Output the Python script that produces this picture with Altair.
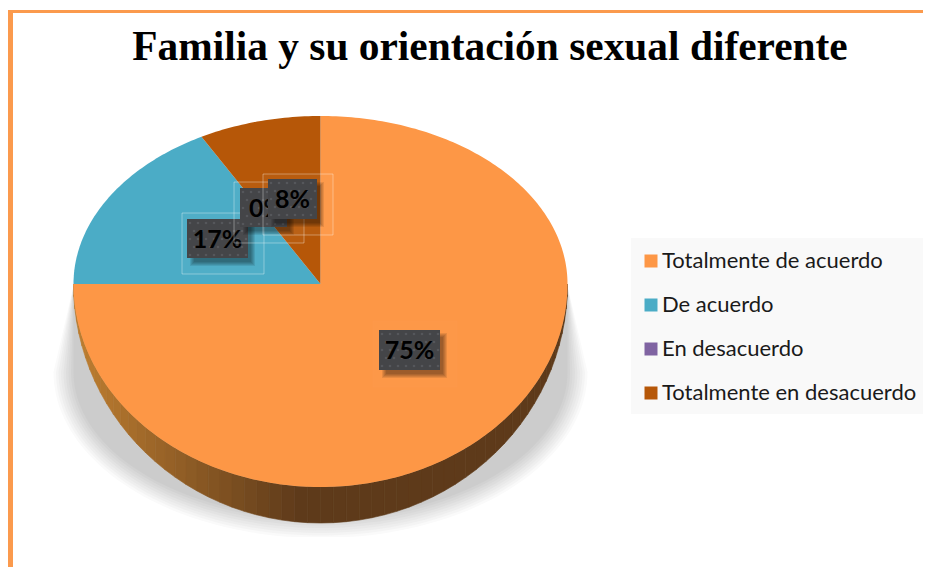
import numpy as np
import altair as alt

# ---- data
TITLE = "Familia y su orientación sexual diferente"
CATEGORIES = ["Totalmente de acuerdo", "De acuerdo", "En desacuerdo", "Totalmente en desacuerdo"]
VALUES = [75, 17, 0, 8]
LABELS = ["75%", "17%", "0%", "8%"]
COLORS = ["#fd9746", "#4bacc6", "#8064a2", "#b65708"]

# ---- placement (page pixels)
W, H = 915, 559
CX, CY, RX, RY_UP, RY_DOWN, RY_WALL = 320.5, 284, 247, 168, 203, 239
BOX_CENTER_X = [409.5, 217.5, 263.5, 292.5]
BOX_CENTER_Y = [350, 238.5, 207.5, 199]
BOX_W = [61, 61, 47, 49]
BOX_H = [40, 39, 39, 40]
TEXT_DX = [0, 0, 3, 0]
HALO_BOX = [(373, 321, 457, 387), (182, 213, 264, 274), (234, 182, 304, 243), (263, 174, 333, 235)]
HALO_STROKE = [0.02, 0.35, 0.35, 0.35]
HALO_FILL = [0.012, 0.03, 0.03, 0.03]

X = alt.X("x:Q", scale=alt.Scale(domain=[8, 923]), axis=None)
X2 = alt.X2("x2:Q")
Y = alt.Y("y:Q", scale=alt.Scale(domain=[8, 567], reverse=True), axis=None)
Y2 = alt.Y2("y2:Q")
PROJ = alt.Projection(type="identity", scale=1, translate=[-8, -8])


def rect(x, y, x2, y2, **kw):
    return alt.Chart(alt.Data(values=[dict(x=x, y=y, x2=x2, y2=y2)])).mark_rect(**kw).encode(
        x=X, x2=X2, y=Y, y2=Y2)


def edge(a):
    """Point of the top face at clockwise angle a (radians from 12 o'clock)."""
    s, c = np.sin(a), np.cos(a)
    ry = RY_UP if c >= 0 else RY_DOWN
    return [float(CX + RX * s), float(CY - ry * c)]


def feat(ring, **props):
    return {"type": "Feature", "properties": props,
            "geometry": {"type": "Polygon", "coordinates": [ring + [ring[0]]]}}


# ---- shadow under the pie: nested outlines, pale outside to solid inside
shadow = []
STEPS = 9
for i in range(STEPS):
    f = i / (STEPS - 1)
    inset = 20 * (1 - f)
    level = int(round(250 - (250 - 204) * f))
    col = "#%02x%02x%02x" % (level, level, level)
    rx = 247 + inset
    ring = []
    ring.append([CX - 247, 286.0])
    for t in np.linspace(0, np.pi, 90):
        px = CX - rx * np.cos(t)
        py = 372 + (146 + inset) * np.sin(t)
        ring.append([float(px), float(min(py, 537))])
    ring.append([CX + 247, 286.0])
    shadow.append(feat(ring, c=col))

# ---- side wall: narrow facets darkening from left to right
wall = []
ANG = np.linspace(np.pi * 1.5, np.pi * 0.5, 61)
for a0, a1 in zip(ANG[:-1], ANG[1:]):
    mx = CX + RX * np.sin((a0 + a1) / 2)
    f = float(np.clip((mx - 85) / (300 - 85), 0, 1))
    c0, c1 = np.array([0xbb, 0x7c, 0x30]), np.array([0x5e, 0x3a, 0x1a])
    col = "#%02x%02x%02x" % tuple(int(v) for v in (c0 + (c1 - c0) * f))
    ring = [edge(a0), edge(a1),
            [float(CX + RX * np.sin(a1)), float(CY - RY_WALL * np.cos(a1))],
            [float(CX + RX * np.sin(a0)), float(CY - RY_WALL * np.cos(a0))]]
    wall.append(feat(ring, c=col))

# ---- top face slices, from the values, clockwise from 12 o'clock
slices = []
start = 0.0
total = sum(VALUES)
for name, v in zip(CATEGORIES, VALUES):
    if v > 0:
        sweep = 2 * np.pi * v / total
        n = max(2, int(v * 4))
        ring = [[CX, float(CY)]] + [edge(a) for a in np.linspace(start, start + sweep, n)]
        slices.append(feat(ring, name=name))
        start += sweep

shadow_ch = alt.Chart(alt.Data(values=shadow)).mark_geoshape(strokeWidth=0).encode(
    fill=alt.Fill("properties.c:N", scale=None)).project(**PROJ.to_dict())
wall_ch = alt.Chart(alt.Data(values=wall)).mark_geoshape(strokeWidth=0.6).encode(
    fill=alt.Fill("properties.c:N", scale=None),
    stroke=alt.Stroke("properties.c:N", scale=None)).project(**PROJ.to_dict())
top_ch = alt.Chart(alt.Data(values=slices)).mark_geoshape(strokeWidth=0).encode(
    color=alt.Color(
        "properties.name:N",
        scale=alt.Scale(domain=CATEGORIES, range=COLORS),
        sort=CATEGORIES,
        legend=alt.Legend(
            title=None, orient="none", legendX=632, legendY=242, padding=0,
            symbolType="square", symbolSize=169, symbolStrokeWidth=0,
            labelFont="Lato", labelFontSize=22, labelColor="#1a1a1a",
            labelOffset=0, rowPadding=22, labelLimit=320,
        ),
    )).project(**PROJ.to_dict())

layers = [
    rect(8, 10, 923, 13, color="#fb9a4d"),
    rect(8, 10, 13, 567, color="#fb9a4d"),
    alt.Chart(alt.Data(values=[dict(x=490, y=60, t=TITLE)])).mark_text(
        font="Liberation Serif", fontWeight="bold", fontSize=41.4, color="#000000",
        align="center", baseline="alphabetic").encode(x=X, y=Y, text="t:N"),
    rect(631, 238, 923, 414, color="#f9f9f9"),
    shadow_ch, wall_ch, top_ch,
]

# ---- data labels: halo, soft shadow, dotted dark box and text, in order
for lab, cx, cy, bw, bh, halo, hs, hf, dx in zip(LABELS, BOX_CENTER_X, BOX_CENTER_Y, BOX_W, BOX_H,
                                                 HALO_BOX, HALO_STROKE, HALO_FILL, TEXT_DX):
    x0, x1, y0, y1 = cx - bw / 2, cx + bw / 2, cy - bh / 2, cy + bh / 2
    layers.append(rect(halo[0], halo[1], halo[2], halo[3], fill="#ffffff",
                       fillOpacity=hf, stroke="#ffffff", strokeOpacity=hs, strokeWidth=1))
    for k in range(5):
        layers.append(rect(x0 + 7 - k, y0 + 7 - k, x1 + 3 + k, y1 + 4 + k,
                           color="#000000", opacity=0.09))
    layers.append(rect(x0, y0, x1, y1, color="#444548"))
    dots = [dict(x=float(px), y=float(py))
            for row, py in enumerate(np.arange(y0 + 4, y1, 8))
            for px in np.arange(x0 + 3 + (row % 2) * 4, x1, 8)]
    layers.append(alt.Chart(alt.Data(values=dots)).mark_point(
        filled=True, size=7, color="#5a5b60", opacity=0.8).encode(x=X, y=Y))
    layers.append(alt.Chart(alt.Data(values=[dict(x=cx + dx, y=cy + 1, t=lab)])).mark_text(
        font="Lato", fontWeight="bold", fontSize=25, color="#000000",
        align="center", baseline="middle").encode(x=X, y=Y, text="t:N"))

chart = alt.layer(*layers).properties(
    width=W, height=H, padding=0,
    autosize=alt.AutoSizeParams(type="none"),
    background="#ffffff",
).configure_view(stroke=None)

chart.save("out.html", embed_options={"renderer": "svg", "actions": False})
